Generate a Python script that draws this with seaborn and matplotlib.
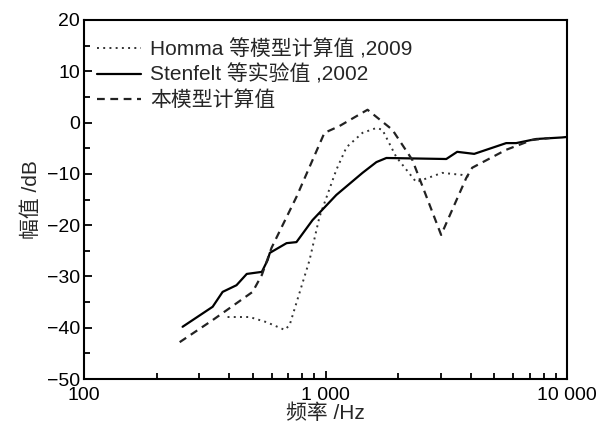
import numpy as np
import pandas as pd
import matplotlib
matplotlib.use("Agg")
import matplotlib.pyplot as plt
import seaborn as sns
from matplotlib.ticker import FixedLocator, LogLocator, NullFormatter, MultipleLocator

# Homma et al. model (dotted)
homma_freq = [393, 485, 570, 677, 710, 859, 944, 1109, 1222, 1423, 1625, 1720,
              1963, 2375, 3040, 3680, 3950]
homma_db = [-37.9, -37.9, -38.9, -40.4, -39.5, -26.8, -18.4, -9.2, -4.8, -2.0,
            -1.05, -1.4, -6.7, -11.6, -9.8, -10.2, -10.6]

# Stenfelt et al. measurement (solid)
stenfelt_freq = [256, 341, 375, 428, 472, 545, 576, 588, 690, 758, 884, 1109,
                 1423, 1625, 1787, 3163, 3510, 4128, 5600, 6160, 7450, 9530, 10000]
stenfelt_db = [-39.8, -35.9, -33.0, -31.7, -29.5, -29.1, -26.8, -25.4, -23.5,
               -23.3, -19.0, -14.1, -9.8, -7.7, -6.9, -7.1, -5.7, -6.1, -4.0,
               -4.0, -3.2, -2.9, -2.8]

# this model (dashed)
model_freq = [249, 341, 499, 545, 598, 758, 990, 1140, 1493, 1892, 2290, 3012,
              3826, 4050, 5600, 7160, 8500]
model_db = [-42.8, -38.5, -33.0, -29.7, -24.4, -14.5, -2.0, -0.7, 2.5, -1.4,
            -7.3, -21.9, -10.8, -8.8, -5.3, -3.4, -3.0]

labels = ["Homma 等模型计算值 ,2009", "Stenfelt 等实验值 ,2002", "本模型计算值"]

sns.set_theme(style="ticks")
plt.rcParams["font.family"] = ["Liberation Sans", "Noto Sans CJK SC", "DejaVu Sans"]
plt.rcParams["axes.unicode_minus"] = True

fig = plt.figure(figsize=(6, 4.25), dpi=100)
ax = fig.add_axes([0.14, 0.108, 0.805, 0.845])

sns.lineplot(x=homma_freq, y=homma_db, ax=ax, color="#333333", lw=1.4,
             linestyle=(0, (1, 2.2)), label=labels[0])
sns.lineplot(x=stenfelt_freq, y=stenfelt_db, ax=ax, color="black", lw=1.6,
             linestyle="-", label=labels[1])
sns.lineplot(x=model_freq, y=model_db, ax=ax, color="#222222", lw=1.6,
             linestyle=(0, (3.5, 2.5)), label=labels[2])

ax.set_xscale("log")
ax.set_xlim(100, 10000)
ax.set_ylim(-50, 20)
ax.xaxis.set_major_locator(FixedLocator([100, 1000, 10000]))
ax.set_xticklabels(["100", "1 000", "10 000"])
ax.xaxis.set_minor_locator(LogLocator(base=10, subs=np.arange(2, 10)))
ax.xaxis.set_minor_formatter(NullFormatter())
ax.yaxis.set_major_locator(MultipleLocator(10))
ax.yaxis.set_minor_locator(MultipleLocator(5))

ax.tick_params(which="both", direction="in", top=False, right=False,
               labelsize=14, colors="black", width=1.3)
ax.tick_params(which="major", length=6)
ax.tick_params(which="minor", length=4)
ax.tick_params(axis="x", pad=6)
ax.tick_params(axis="y", pad=3)
for s in ax.spines.values():
    s.set_linewidth(1.5)
    s.set_color("black")

ax.set_xlabel("频率 /Hz", fontsize=15, labelpad=-1)
ax.set_ylabel("幅值 /dB", fontsize=15, labelpad=4)

leg = ax.legend(loc="upper left", frameon=False, fontsize=15, handlelength=2.1,
                handletextpad=0.45, labelspacing=0.25, borderaxespad=0.0,
                bbox_to_anchor=(0.01, 0.97))

fig.savefig("out.png", dpi=100, facecolor="white")
